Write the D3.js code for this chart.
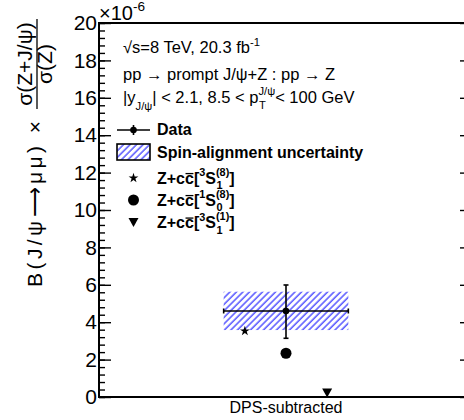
<!DOCTYPE html>
<html>
<head>
<meta charset="utf-8">
<script src="https://cdn.jsdelivr.net/npm/d3@7"></script>
<style>
  body { margin: 0; background: #fff; }
  text { font-family: "Liberation Sans", Arial, Helvetica, sans-serif; fill: #000; }
</style>
</head>
<body>
<div id="chart"></div>
<script>
"use strict";

// values in units of 1e-6
let categories = ["DPS-subtracted"]
let dataValue = [4.6]
let statLow = [3.14]
let statHigh = [5.99]
let sysLow = [3.58]
let sysHigh = [5.63]

let predNames = ["3S1(8)", "1S0(8)", "3S1(1)"]
let predValues = [3.53, 2.34, 0.22]

let yTicks = [0, 2, 4, 6, 8, 10, 12, 14, 16, 18, 20]

const W = 464, H = 420
const frame = {left: 99, right: 473, top: 23, bottom: 397}

const svg = d3.select("#chart").append("svg")
    .attr("width", W).attr("height", H)
    .style("display", "block")

const x = d3.scaleLinear().domain([0, 3]).range([frame.left, frame.right])
const y = d3.scaleLinear().domain([0, 20]).range([frame.bottom, frame.top])

// hatch pattern for the spin-alignment box
const defs = svg.append("defs")
defs.append("pattern")
    .attr("id", "hatch")
    .attr("patternUnits", "userSpaceOnUse")
    .attr("width", 4.6).attr("height", 6)
    .attr("patternTransform", "rotate(45)")
  .append("line")
    .attr("x1", 1).attr("y1", 0).attr("x2", 1).attr("y2", 6)
    .attr("stroke", "#0000ff").attr("stroke-width", 1)

// helper: write a string made of pieces (normal, sup, sub, stacked sup/sub, overline)
function richText(g, x0, y0, segs, size, weight) {
  let cx = x0
  let put = (t, px, py, fs) => {
    let el = g.append("text").attr("x", px).attr("y", py)
        .attr("font-size", fs).attr("font-weight", weight || "normal").text(t)
    return el.node().getComputedTextLength()
  }
  segs.forEach(s => {
    if (s.stack) {
      let a = put(s.stack[0], cx, y0 - size * 0.5, size * 0.68)
      let b = put(s.stack[1], cx + 0.5, y0 + size * 0.36, size * 0.68)
      cx += Math.max(a, b)
    } else if (s.sup !== undefined) {
      cx += put(s.sup, cx, y0 - size * 0.45, size * 0.68)
    } else if (s.sub !== undefined) {
      cx += put(s.sub, cx, y0 + size * 0.45, size * 0.68)
    } else {
      let w = put(s.t, cx, y0, size)
      if (s.over) {
        g.append("line").attr("x1", cx + 0.5).attr("x2", cx + w - 0.5)
            .attr("y1", y0 - size * 0.62).attr("y2", y0 - size * 0.62)
            .attr("stroke", "#000").attr("stroke-width", 1.3)
      }
      cx += w
    }
  })
  return cx
}

// ---- data: spin-alignment box ----
const plot = svg.append("g")
categories.forEach((c, i) => {
  let xc = x(i + 1.5), xl = x(i + 1), xr = x(i + 2)
  plot.append("rect")
      .attr("x", xl).attr("y", y(sysHigh[i]))
      .attr("width", xr - xl).attr("height", y(sysLow[i]) - y(sysHigh[i]))
      .attr("fill", "url(#hatch)")

  // predictions
  let offs = [-0.33, 0, 0.33]
  let px = predValues.map((v, k) => x(i + 1.5 + offs[k]))
  plot.append("path")
      .attr("d", d3.symbol(d3.symbolStar, 30)())
      .attr("transform", "translate(" + px[0] + "," + y(predValues[0]) + ")")
  plot.append("circle").attr("cx", px[1]).attr("cy", y(predValues[1])).attr("r", 5.5)
  plot.append("path")
      .attr("d", "M-5,-4.5L5,-4.5L0,4.5Z")
      .attr("transform", "translate(" + px[2] + "," + y(predValues[2]) + ")")

  // data point with error bars
  let ln = (x1, y1, x2, y2) => plot.append("line")
      .attr("x1", x1).attr("y1", y1).attr("x2", x2).attr("y2", y2)
      .attr("stroke", "#000").attr("stroke-width", 1.6)
  ln(xl, y(dataValue[i]), xr, y(dataValue[i]))
  ln(xl, y(dataValue[i]) - 2.5, xl, y(dataValue[i]) + 2.5)
  ln(xr, y(dataValue[i]) - 2.5, xr, y(dataValue[i]) + 2.5)
  ln(xc, y(statHigh[i]), xc, y(statLow[i]))
  ln(xc - 2.5, y(statHigh[i]), xc + 2.5, y(statHigh[i]))
  ln(xc - 2.5, y(statLow[i]), xc + 2.5, y(statLow[i]))
  plot.append("circle").attr("cx", xc).attr("cy", y(dataValue[i])).attr("r", 3.3)

  svg.append("text")
      .attr("x", xc).attr("y", 413)
      .attr("text-anchor", "middle").attr("font-size", 16)
      .text(c)
})

// ---- axes ----
const minor = d3.range(0, 20.001, 0.4)
svg.append("g").attr("transform", "translate(" + frame.left + ",0)")
    .call(d3.axisLeft(y).tickValues(minor).tickSize(-6).tickFormat(""))
svg.append("g").attr("transform", "translate(" + frame.left + ",0)")
    .call(d3.axisLeft(y).tickValues(yTicks).tickSize(-12).tickPadding(2).tickFormat(d3.format("d")))
    .call(g => g.selectAll("text").attr("font-size", 21).attr("font-family", "Liberation Sans"))
svg.append("g").attr("transform", "translate(" + frame.right + ",0)")
    .call(d3.axisRight(y).tickValues(yTicks).tickSize(-13).tickFormat(""))
svg.selectAll(".domain").remove()
svg.selectAll(".tick line").attr("stroke", "#000").attr("stroke-width", 1.4)

svg.append("rect")
    .attr("x", frame.left).attr("y", frame.top)
    .attr("width", frame.right - frame.left).attr("height", frame.bottom - frame.top)
    .attr("fill", "none").attr("stroke", "#000").attr("stroke-width", 2)

// exponent
const expo = svg.append("g")
richText(expo, 99, 20, [{t: "×10"}, {sup: "-6"}], 20)

// y axis title
const yl = svg.append("g").attr("transform", "rotate(-90)")
yl.append("text").attr("x", -287).attr("y", 42).attr("font-size", 21)
    .attr("textLength", 166).attr("lengthAdjust", "spacing")
    .text("B(J/ψ⟶μμ) ×")
yl.append("text").attr("x", -64).attr("y", 32).attr("font-size", 21)
    .attr("text-anchor", "middle").text("σ(Z+J/ψ)")
yl.append("text").attr("x", -64).attr("y", 52).attr("font-size", 21)
    .attr("text-anchor", "middle").text("σ(Z)")
yl.append("line").attr("x1", -19).attr("x2", -109).attr("y1", 37).attr("y2", 37)
    .attr("stroke", "#000").attr("stroke-width", 1.3)

// ---- legend ----
const leg = svg.append("g")
richText(leg, 123, 53, [{t: "√s=8 TeV, 20.3 fb"}, {sup: " -1"}], 16.5)
richText(leg, 123, 80, [{t: "pp → prompt J/ψ+Z : pp → Z"}], 16.5)
richText(leg, 123, 103, [{t: "|y"}, {sub: "J/ψ"}, {t: "| < 2.1, 8.5 < p"}, {stack: ["J/ψ", "T"]}, {t: "  < 100 GeV"}], 16.5)

// Data entry
leg.append("line").attr("x1", 117).attr("x2", 150).attr("y1", 130).attr("y2", 130)
    .attr("stroke", "#000").attr("stroke-width", 1.6)
leg.append("line").attr("x1", 133.5).attr("x2", 133.5).attr("y1", 125).attr("y2", 135)
    .attr("stroke", "#000").attr("stroke-width", 1.6)
leg.append("circle").attr("cx", 133.5).attr("cy", 130).attr("r", 3.3)
richText(leg, 157, 135, [{t: "Data"}], 16, "bold")

// spin-alignment entry
leg.append("rect").attr("x", 117).attr("y", 144).attr("width", 33).attr("height", 16)
    .attr("fill", "url(#hatch)").attr("stroke", "#000").attr("stroke-width", 1.6)
richText(leg, 157, 158, [{t: "Spin-alignment uncertainty"}], 16, "bold")

// prediction entries
const predLabels = [
  [{t: "Z+c"}, {t: "c", over: true}, {t: "["}, {sup: "3"}, {t: "S"}, {stack: ["(8)", "1"]}, {t: "]"}],
  [{t: "Z+c"}, {t: "c", over: true}, {t: "["}, {sup: "1"}, {t: "S"}, {stack: ["(8)", "0"]}, {t: "]"}],
  [{t: "Z+c"}, {t: "c", over: true}, {t: "["}, {sup: "3"}, {t: "S"}, {stack: ["(1)", "1"]}, {t: "]"}]
]
const rowY = [178, 200, 222.5]
leg.append("path").attr("d", d3.symbol(d3.symbolStar, 30)())
    .attr("transform", "translate(133.5," + rowY[0] + ")")
leg.append("circle").attr("cx", 133.5).attr("cy", rowY[1]).attr("r", 5.5)
leg.append("path").attr("d", "M-5,-4.5L5,-4.5L0,4.5Z")
    .attr("transform", "translate(133.5," + rowY[2] + ")")
predLabels.forEach((segs, k) => richText(leg, 157, rowY[k] + 5.5, segs, 16, "bold"))
</script>
</body>
</html>
